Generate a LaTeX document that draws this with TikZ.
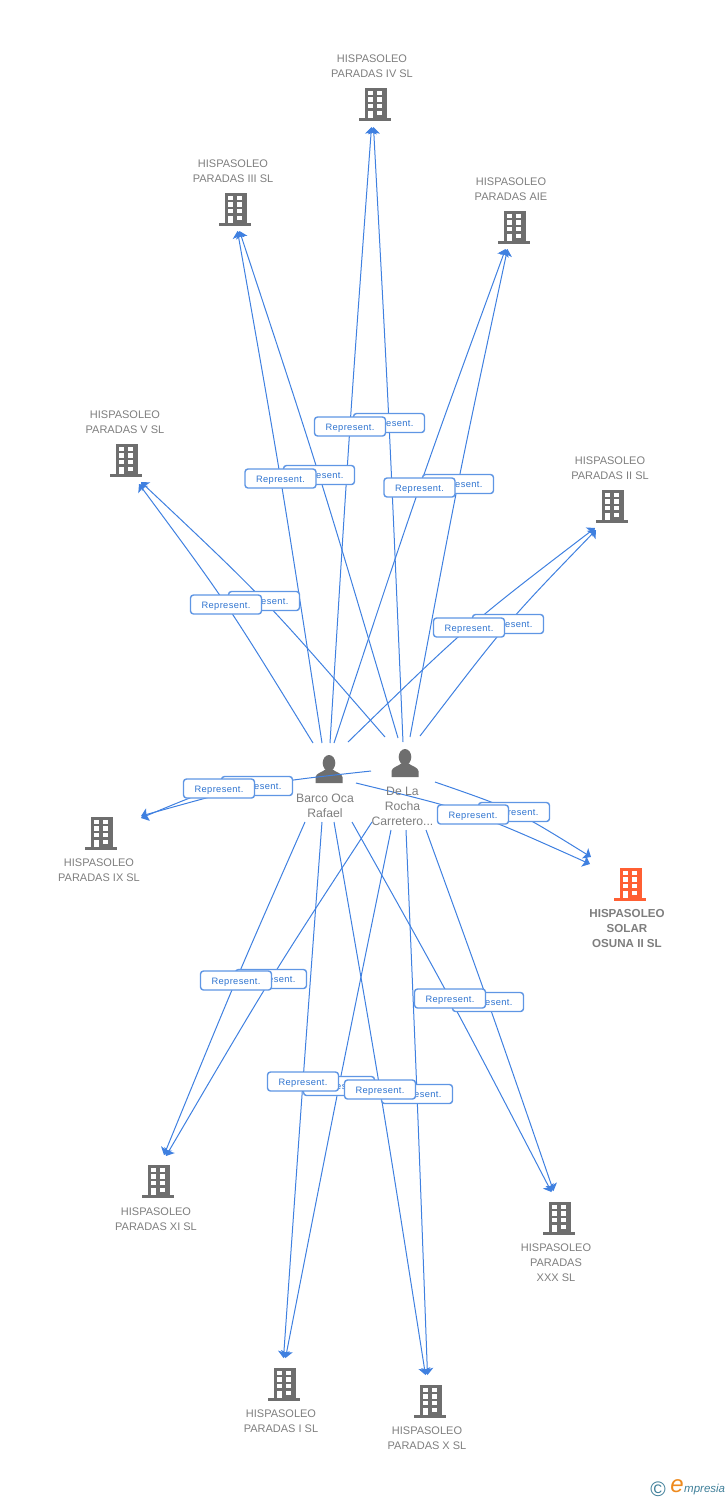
\documentclass[tikz,border=0pt]{standalone}
\usepackage{fontspec}
\setmainfont{Liberation Sans}
\usetikzlibrary{calc,arrows.meta,backgrounds}
\definecolor{linkblue}{HTML}{3F80E0}
\definecolor{boxblue}{HTML}{5F96E4}
\definecolor{txtblue}{HTML}{2F74D0}
\definecolor{iconfill}{HTML}{6E6E6E}
\definecolor{lblgray}{HTML}{7E7E7E}
\definecolor{hot}{HTML}{FF5F33}
\definecolor{logoteal}{HTML}{3F7F99}
\definecolor{logoorange}{HTML}{EE8A1E}
\newfontfamily\rlabel[LetterSpace=4]{Liberation Sans}
\tikzset{
  rep/.style={draw=boxblue,line width=1.4pt,fill=white,rounded corners=3pt,minimum width=71pt,minimum height=19pt,inner sep=0pt,text=txtblue,text height=7pt,text depth=0pt,font=\rlabel\fontsize{9.3}{10}\selectfont},
  conn/.style={draw=linkblue,line width=1pt,-{Stealth[length=7pt,width=12pt,inset=1.5pt]}},
  lbl/.style={text=lblgray,font=\fontsize{11}{15}\selectfont,align=center,inner sep=0pt,yshift=-0.8pt},
  lblbig/.style={lbl,font=\fontsize{12.2}{15}\selectfont},
  lblbold/.style={lbl,font=\bfseries\fontsize{11.6}{15}\selectfont},
  anchorbox/.style={minimum width=31pt,minimum height=33pt,inner sep=0pt}
}
\newcommand{\bldg}[3]{%
  \node[anchorbox] (#1) at (#2,#3) {};
  \fill[bcol] (#2-10.5,#3-16.5) rectangle (#2+11.5,#3+15);
  \fill[bcol] (#2-16,#3+13.4) rectangle (#2+16,#3+16.2);
  \foreach \wx in {-7.3,2.3}{\foreach \wy in {-13.5,-7.2,-0.5}{\fill[white] (#2+\wx,#3+\wy) rectangle +(5,4.4);}}
  \fill[white] (#2-7.3,#3+6.2) rectangle +(5,7.4);
  \fill[white] (#2+2.3,#3+6.2) rectangle +(5,4.4);
}
\newcommand{\person}[3]{%
  \node[minimum width=27pt,minimum height=28pt,inner sep=0pt] (#1) at (#2,#3) {};
  \fill[iconfill] (#2,#3-6) ellipse (6.3 and 8);
  \fill[iconfill] (#2-13.5,#3+14) -- (#2-13.5,#3+8) .. controls (#2-13,#3+4) and (#2-6,#3+3) .. (#2-3,#3)
     -- (#2+3,#3) .. controls (#2+6,#3+3) and (#2+13,#3+4) .. (#2+13.5,#3+8) -- (#2+13.5,#3+14) -- cycle;
}
\newcommand{\link}[3]{\draw[conn] (#1) .. controls ($1.3333*(#2.center)-0.16667*(#1)-0.16667*(#3)$) .. (#3);}
\begin{document}
\begin{tikzpicture}[x=1pt,y=-1pt]
\useasboundingbox (0,0) rectangle (728,1500);
% companies
\colorlet{bcol}{iconfill}
\bldg{cIV}{375}{104.5}
\bldg{cIII}{235}{209.5}
\bldg{cAIE}{514}{227.5}
\bldg{cV}{126}{460.5}
\bldg{cII}{612}{506.5}
\bldg{cIX}{101}{833.5}
\bldg{cXI}{158}{1181.5}
\bldg{cXXX}{559}{1218.5}
\bldg{cI}{284}{1384.5}
\bldg{cX}{430}{1401.5}
\colorlet{bcol}{hot}
\bldg{cSOL}{630}{884.5}
\node[lbl] (tIV) at (372,65.5) {HISPASOLEO\\PARADAS IV SL};
\node[lbl] (tIII) at (233,170.5) {HISPASOLEO\\PARADAS III SL};
\node[lbl] (tAIE) at (511,188.5) {HISPASOLEO\\PARADAS AIE};
\node[lbl] (tV) at (125,421.5) {HISPASOLEO\\PARADAS V SL};
\node[lbl] (tII) at (610,467.5) {HISPASOLEO\\PARADAS II SL};
\node[lbl] (tIX) at (99,869.5) {HISPASOLEO\\PARADAS IX SL};
\node[lblbold] (tSOL) at (627,928) {HISPASOLEO\\SOLAR\\OSUNA II SL};
\node[lbl] (tXI) at (156,1218.5) {HISPASOLEO\\PARADAS XI SL};
\node[lbl] (tXXX) at (556,1262) {HISPASOLEO\\PARADAS\\XXX SL};
\node[lbl] (tI) at (281,1420.5) {HISPASOLEO\\PARADAS I SL};
\node[lbl] (tX) at (427,1437.5) {HISPASOLEO\\PARADAS X SL};
% captions of people
\node[lblbig] (tA) at (325,805) {Barco Oca\\Rafael};
\node[lblbig] (tB) at (402.5,805.5) {De La\\Rocha\\Carretero...};
% arrow tips
\coordinate (eIVa) at (371.5,127);
\coordinate (eIVb) at (373.5,127);
\coordinate (eIIIa) at (237.5,231);
\coordinate (eIIIb) at (239.5,231);
\coordinate (eAIEa) at (505.5,249);
\coordinate (eAIEb) at (507.5,249);
\coordinate (eVa) at (139,484);
\coordinate (eVb) at (141,482);
\coordinate (eIIa) at (595,528);
\coordinate (eIIb) at (596,530);
\coordinate (eIXa) at (141,818);
\coordinate (eIXb) at (141,816);
\coordinate (eSOLa) at (590,864);
\coordinate (eSOLb) at (591,857);
\coordinate (eXIa) at (164,1155);
\coordinate (eXIb) at (166,1156);
\coordinate (eXXXa) at (551.5,1192);
\coordinate (eXXXb) at (553.5,1191);
\coordinate (eIa) at (283.5,1358);
\coordinate (eIb) at (285.5,1358);
\coordinate (eXa) at (425.5,1375);
\coordinate (eXb) at (427.5,1375);
% connector starts
\coordinate (aIV) at (330,743);
\coordinate (bIV) at (403,742);
\coordinate (aIII) at (322,743);
\coordinate (bIII) at (398,738);
\coordinate (aAIE) at (334,743);
\coordinate (bAIE) at (410,737);
\coordinate (aV) at (313,743);
\coordinate (bV) at (385,737);
\coordinate (aII) at (348,742);
\coordinate (bII) at (420,736);
\coordinate (aIX) at (290,780);
\coordinate (bIX) at (371,771);
\coordinate (aSOL) at (356,783);
\coordinate (bSOL) at (435,782);
\coordinate (aXI) at (305,822);
\coordinate (bXI) at (372,822);
\coordinate (aXXX) at (352,822);
\coordinate (bXXX) at (426,830);
\coordinate (aI) at (322,822);
\coordinate (bI) at (391,830);
\coordinate (aX) at (334,822);
\coordinate (bX) at (406,830);
% rear labels
\node[rep] (rbIV) at (389,423) {Represent.};
\node[rep] (rbIII) at (319,475) {Represent.};
\node[rep] (rbAIE) at (458,484) {Represent.};
\node[rep] (rbV) at (264,601) {Represent.};
\node[rep] (rbII) at (508,624) {Represent.};
\node[rep] (rbIX) at (257,786) {Represent.};
\node[rep] (rbSOL) at (514,812) {Represent.};
\node[rep] (rbXI) at (271,979) {Represent.};
\node[rep] (rbXXX) at (488,1002) {Represent.};
\node[rep] (rbI) at (339,1086) {Represent.};
\node[rep] (rbX) at (417,1094) {Represent.};
% front labels
\node[rep] (raIV) at (350,426.5) {Represent.};
\node[rep] (raIII) at (280.5,478.5) {Represent.};
\node[rep] (raAIE) at (419.5,487.5) {Represent.};
\node[rep] (raV) at (226,604.5) {Represent.};
\node[rep] (raII) at (469,627.5) {Represent.};
\node[rep] (raIX) at (219,788.5) {Represent.};
\node[rep] (raSOL) at (473,814.5) {Represent.};
\node[rep] (raXI) at (236,980.5) {Represent.};
\node[rep] (raXXX) at (450,998.5) {Represent.};
\node[rep] (raI) at (303,1081.5) {Represent.};
\node[rep] (raX) at (380,1089.5) {Represent.};
% people under the connectors, connectors under the labels
\begin{scope}[on background layer]
\person{pA}{329}{769}
\person{pB}{405}{763}
\link{aIV}{raIV}{eIVa}
\link{bIV}{rbIV}{eIVb}
\link{aIII}{raIII}{eIIIa}
\link{bIII}{rbIII}{eIIIb}
\link{aAIE}{raAIE}{eAIEa}
\link{bAIE}{rbAIE}{eAIEb}
\link{aV}{raV}{eVa}
\link{bV}{rbV}{eVb}
\link{aII}{raII}{eIIa}
\link{bII}{rbII}{eIIb}
\link{aIX}{raIX}{eIXa}
\link{bIX}{rbIX}{eIXb}
\link{aSOL}{raSOL}{eSOLa}
\link{bSOL}{rbSOL}{eSOLb}
\link{aXI}{raXI}{eXIa}
\link{bXI}{rbXI}{eXIb}
\link{aXXX}{raXXX}{eXXXa}
\link{bXXX}{rbXXX}{eXXXb}
\link{aI}{raI}{eIa}
\link{bI}{rbI}{eIb}
\link{aX}{raX}{eXa}
\link{bX}{rbX}{eXb}
\end{scope}
% logo
\node[text=logoteal,font=\fontsize{21}{21}\selectfont,inner sep=0pt] (copy) at (658,1489) {©};
\node[text=logoorange,font=\itshape\fontsize{24}{24}\selectfont,inner sep=0pt] (logoe) at (677,1486.5) {e};
\node[text=logoteal,font=\itshape\fontsize{11.5}{12}\selectfont,inner sep=0pt,anchor=west] (logor) at (684,1490) {mpresia};
\end{tikzpicture}
\end{document}
